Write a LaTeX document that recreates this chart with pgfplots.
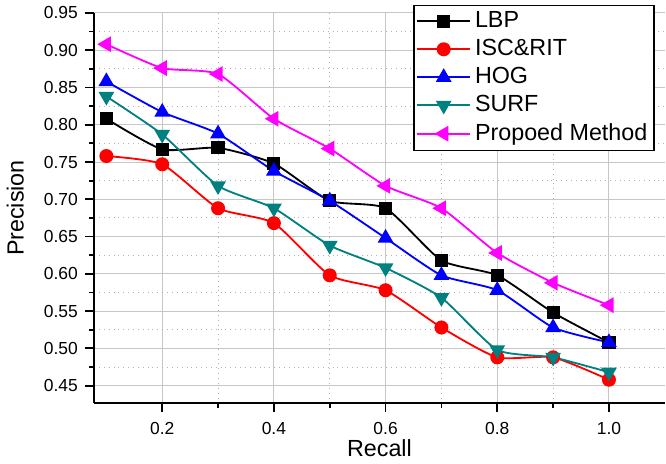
\documentclass[border=0pt]{standalone}
\usepackage{fontspec}
\setmainfont{Liberation Sans}
\usepackage{pgfplots}
\pgfplotsset{compat=1.18}
\definecolor{teal2}{RGB}{0,128,128}
\definecolor{magen}{RGB}{255,0,255}
\begin{document}
\begin{tikzpicture}
\begin{axis}[
  scale only axis, width=281.5pt, height=192.5pt,
  xmin=0.078, xmax=1.1, ymin=0.4265, ymax=0.95,
  axis lines*=left, axis line style={line width=1.2pt},
  tick align=outside, major tick length=4.5pt, minor tick length=2.5pt,
  tick style={line width=0.9pt, black},
  xtick={0.2,0.4,...,1.0}, ytick={0.45,0.50,...,0.951},
  minor x tick num=1, minor y tick num=1,
  grid=both, major grid style={gray!45, line width=0.5pt},
  minor grid style={gray!60, dotted, line width=0.5pt},
  xticklabel style={yshift=-1.5pt, /pgf/number format/.cd, fixed, fixed zerofill, precision=1},
  yticklabel style={/pgf/number format/.cd, fixed, fixed zerofill, precision=2},
  /pgf/number format/assume math mode=true,
  tick label style={font=\fontsize{8.6}{10}\selectfont},
  label style={font=\fontsize{11.5}{13}\selectfont},
  xlabel={Recall}, ylabel={Precision},
  xlabel style={yshift=4.5pt}, ylabel style={yshift=3pt},
  legend style={at={(0.982,1.021)}, anchor=north east, draw=black, line width=0.6pt,
    font=\fontsize{11.5}{13}\selectfont, row sep=0.3pt, inner sep=1.2pt},
  legend cell align=left,
  legend image code/.code={\draw[#1] (0pt,0pt) -- (13pt,0pt); \draw[#1,mark repeat=2,mark phase=2] plot coordinates {(0pt,0pt) (13pt,0pt) (26pt,0pt)}; \draw[#1] (13pt,0pt)--(26pt,0pt);},
  every axis plot/.append style={line width=0.9pt, smooth, tension=0.35},
]
\addplot[black, mark=square*, mark size=2.8pt, mark options={solid}] coordinates {
  (0.1,0.808)(0.2,0.767)(0.3,0.769)(0.4,0.748)(0.5,0.698)(0.6,0.688)(0.7,0.618)(0.8,0.598)(0.9,0.548)(1.0,0.508)};
\addlegendentry{LBP}
\addplot[red, mark=*, mark size=3pt] coordinates {
  (0.1,0.758)(0.2,0.747)(0.3,0.688)(0.4,0.668)(0.5,0.598)(0.6,0.578)(0.7,0.528)(0.8,0.488)(0.9,0.488)(1.0,0.458)};
\addlegendentry{ISC\&RIT}
\addplot[blue, mark=triangle*, mark size=3.6pt] coordinates {
  (0.1,0.858)(0.2,0.817)(0.3,0.788)(0.4,0.738)(0.5,0.698)(0.6,0.648)(0.7,0.598)(0.8,0.578)(0.9,0.528)(1.0,0.508)};
\addlegendentry{HOG}
\addplot[teal2, mark=triangle*, mark size=3.6pt, mark options={rotate=180}] coordinates {
  (0.1,0.838)(0.2,0.787)(0.3,0.718)(0.4,0.688)(0.5,0.638)(0.6,0.608)(0.7,0.568)(0.8,0.498)(0.9,0.488)(1.0,0.468)};
\addlegendentry{SURF}
\addplot[magen, mark=triangle*, mark size=3.6pt, mark options={rotate=90}] coordinates {
  (0.1,0.908)(0.2,0.876)(0.3,0.868)(0.4,0.808)(0.5,0.768)(0.6,0.718)(0.7,0.688)(0.8,0.628)(0.9,0.588)(1.0,0.558)};
\addlegendentry{Propoed Method}
\end{axis}
\end{tikzpicture}
\end{document}
